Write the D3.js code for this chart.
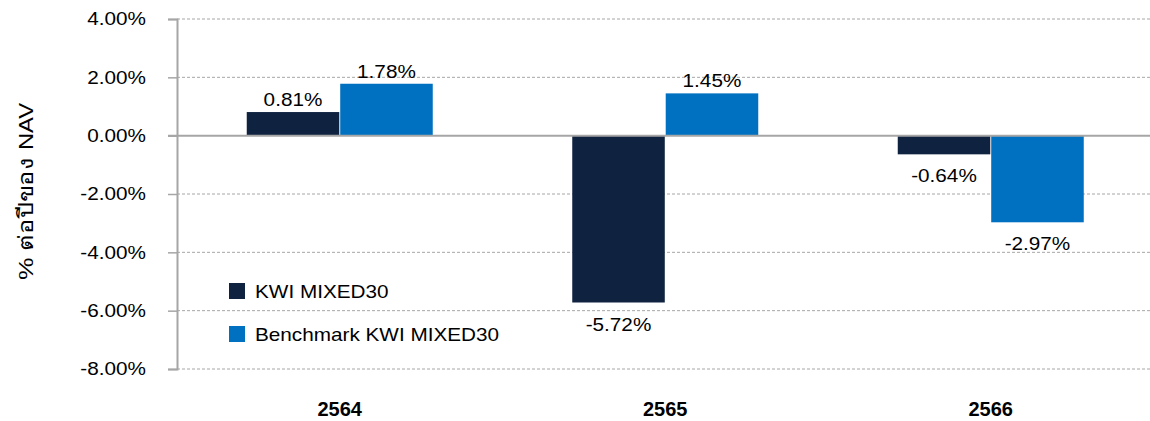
<!DOCTYPE html>
<html>
<head>
<meta charset="utf-8">
<script src="https://cdn.jsdelivr.net/npm/d3@7.9.0/dist/d3.min.js"></script>
<style>
  body { margin: 0; background: #fff; }
  svg { display: block; font-family: "Liberation Sans", Arial, sans-serif; }
</style>
</head>
<body>
<svg id="chart" width="1150" height="421"></svg>
<script>
// chart data
const years = ['2564', '2565', '2566'];
const seriesNames = ['KWI MIXED30', 'Benchmark KWI MIXED30'];
const fundValues = [0.81, -5.72, -0.64];
const benchValues = [1.78, 1.45, -2.97];
const yTicks = [4, 2, 0, -2, -4, -6, -8];
const colors = ['#0f2340', '#0070c0'];

const svg = d3.select('#chart');
const plotLeft = 177, plotRight = 1153.5, plotTop = 19, plotBottom = 369;
const widen = 1.12; // the original font runs a bit wider than Arial

// stretch text horizontally so widths match the original
function stretch(sel, k) {
  sel.each(function () {
    const len = this.getComputedTextLength();
    d3.select(this)
      .attr('textLength', len * k)
      .attr('lengthAdjust', 'spacingAndGlyphs');
  });
}

const x = d3.scaleBand().domain(years).range([plotLeft, plotRight]).padding(0);
const xInner = d3.scaleBand().domain(seriesNames).range([0, 186]).paddingInner(0.01);
const y = d3.scaleLinear().domain([-8, 4]).range([plotBottom, plotTop]);

// gridlines
svg.append('g')
  .selectAll('line')
  .data(yTicks.filter(d => d !== 0))
  .join('line')
  .attr('x1', plotLeft).attr('x2', 1150)
  .attr('y1', d => y(d)).attr('y2', d => y(d))
  .attr('stroke', '#a6a6a6')
  .attr('stroke-width', 1)
  .attr('stroke-dasharray', '3,2');

// y axis
const yAxis = svg.append('g')
  .attr('transform', `translate(${plotLeft},0)`)
  .call(d3.axisLeft(y).tickValues(yTicks).tickSize(9).tickPadding(22)
    .tickFormat(d => d.toFixed(2) + '%'));
yAxis.select('.domain').attr('stroke', '#a6a6a6').attr('stroke-width', 2);
yAxis.selectAll('.tick line').attr('stroke', '#a6a6a6').attr('stroke-width', 1.5);
yAxis.selectAll('.tick text')
  .attr('font-size', 18.5).attr('fill', '#000')
  .attr('font-family', '"Liberation Sans", Arial, sans-serif')
  .call(stretch, widen);

// bars
const rows = years.map((yr, i) => ({ year: yr, values: [fundValues[i], benchValues[i]] }));
const groups = svg.append('g')
  .selectAll('g')
  .data(rows)
  .join('g')
  .attr('transform', d => `translate(${x(d.year) + x.bandwidth() / 2 - 93},0)`);

groups.selectAll('rect')
  .data(d => d.values.map((v, j) => ({ name: seriesNames[j], v, j })))
  .join('rect')
  .attr('x', d => xInner(d.name))
  .attr('width', xInner.bandwidth())
  .attr('y', d => y(Math.max(0, d.v)))
  .attr('height', d => Math.abs(y(d.v) - y(0)))
  .attr('fill', d => colors[d.j]);

groups.selectAll('text')
  .data(d => d.values.map((v, j) => ({ name: seriesNames[j], v, j })))
  .join('text')
  .attr('x', d => xInner(d.name) + xInner.bandwidth() / 2)
  .attr('y', d => d.v >= 0 ? y(d.v) - 6 : y(d.v) + 28)
  .attr('text-anchor', 'middle')
  .attr('font-size', 18.5)
  .attr('fill', '#000')
  .text(d => d.v.toFixed(2) + '%')
  .call(stretch, widen);

// zero line
svg.append('line')
  .attr('x1', plotLeft - 9).attr('x2', 1150)
  .attr('y1', y(0)).attr('y2', y(0))
  .attr('stroke', '#a6a6a6').attr('stroke-width', 2);

// category labels
svg.append('g')
  .selectAll('text')
  .data(years)
  .join('text')
  .attr('x', d => x(d) + x.bandwidth() / 2)
  .attr('y', 416)
  .attr('text-anchor', 'middle')
  .attr('font-size', 20)
  .attr('font-weight', 'bold')
  .text(d => d);

// y axis title, rotated; Thai part and NAV sized separately
const title = svg.append('g').attr('transform', 'translate(33,280) rotate(-90)');
title.append('text')
  .attr('x', 0).attr('y', 0)
  .attr('font-size', 21)
  .attr('textLength', 122).attr('lengthAdjust', 'spacingAndGlyphs')
  .text('% ต่อปีของ');
title.append('text')
  .attr('x', 130).attr('y', 0)
  .attr('font-size', 21)
  .attr('textLength', 47).attr('lengthAdjust', 'spacingAndGlyphs')
  .text('NAV');

// legend
const legend = svg.append('g')
  .selectAll('g')
  .data(seriesNames)
  .join('g')
  .attr('transform', (d, i) => `translate(229,${283 + i * 43})`);
legend.append('rect')
  .attr('width', 16).attr('height', 16)
  .attr('fill', (d, i) => colors[i]);
legend.append('text')
  .attr('x', 26).attr('y', 15)
  .attr('font-size', 18.5)
  .text(d => d)
  .call(stretch, widen);
</script>
</body>
</html>
